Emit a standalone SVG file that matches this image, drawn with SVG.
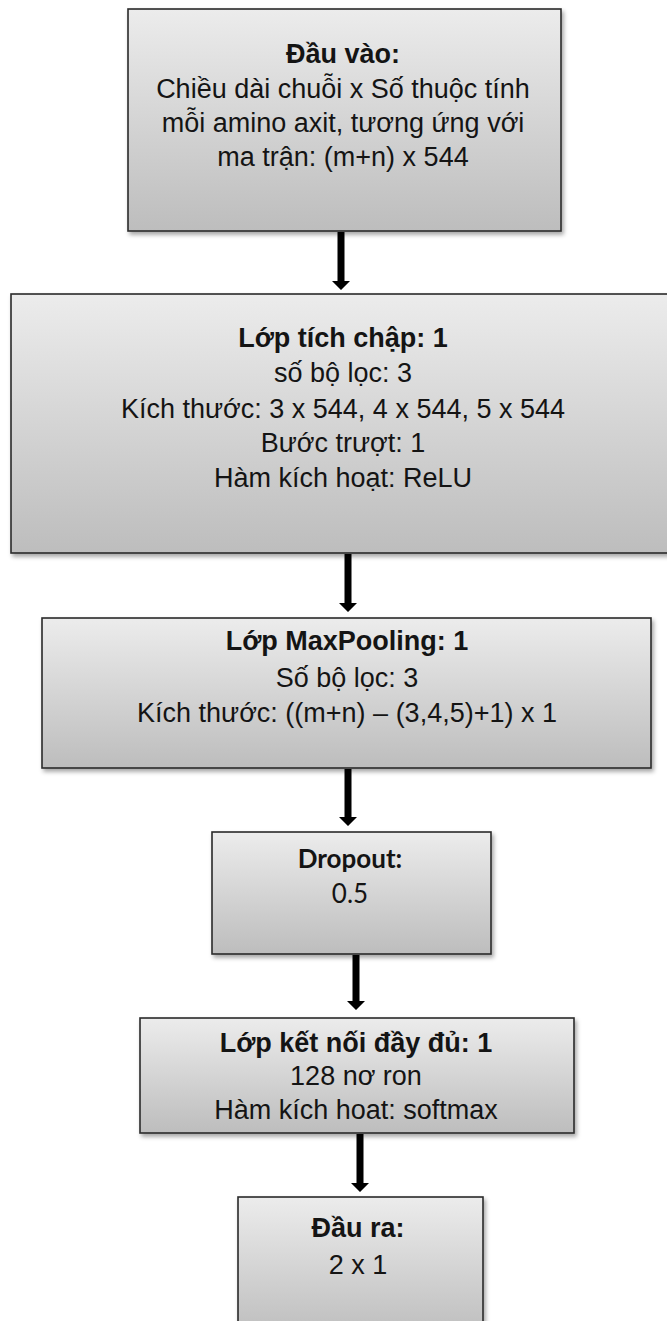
<svg xmlns="http://www.w3.org/2000/svg" width="667" height="1321" viewBox="0 0 667 1321">
<defs>
<linearGradient id="g" x1="0" y1="0" x2="0" y2="1">
<stop offset="0" stop-color="#ececec"/>
<stop offset="1" stop-color="#bdbdbd"/>
</linearGradient>
<filter id="sh" x="-5%" y="-5%" width="112%" height="115%">
<feDropShadow dx="2" dy="3" stdDeviation="2" flood-color="#000" flood-opacity="0.35"/>
</filter>
</defs>
<style>
.box{fill:url(#g);stroke:#2a2a2a;stroke-width:1.6;filter:url(#sh)}
text{font-family:"Liberation Sans",Arial,sans-serif;font-size:27px;fill:#141414;text-anchor:middle}
.b{font-weight:bold}
.c{font-family:Lato,"Open Sans",sans-serif;font-size:26px}
.arr{fill:#000}
</style>
<rect width="667" height="1321" fill="#fff"/>
<g id="n1">
<rect class="box" x="128" y="9" width="433" height="222"/>
<text class="b" x="343" y="63">Đầu vào:</text>
<text x="343" y="97.5">Chiều dài chuỗi x Số thuộc tính</text>
<text x="343" y="132">mỗi amino axit, tương ứng với</text>
<text x="343" y="166">ma trận: (m+n) x 544</text>
</g>
<g id="n2">
<rect class="box" x="11" y="294" width="665" height="259"/>
<text class="b" x="343" y="347">Lớp tích chập: 1</text>
<text x="343" y="382">số bộ lọc: 3</text>
<text x="343" y="418">Kích thước: 3 x 544, 4 x 544, 5 x 544</text>
<text x="343" y="452">Bước trượt: 1</text>
<text x="343" y="487">Hàm kích hoạt: ReLU</text>
</g>
<g id="n3">
<rect class="box" x="42" y="618" width="609" height="150"/>
<text class="b" x="347" y="650">Lớp MaxPooling: 1</text>
<text x="347" y="687">Số bộ lọc: 3</text>
<text x="347" y="722">Kích thước: ((m+n) – (3,4,5)+1) x 1</text>
</g>
<g id="n4">
<rect class="box" x="212" y="832" width="279" height="122"/>
<text class="c b" x="350" y="868">Dropout:</text>
<text class="c" x="350" y="903">0.5</text>
</g>
<g id="n5">
<rect class="box" x="140" y="1018" width="434" height="115"/>
<text class="b" x="356" y="1052">Lớp kết nối đầy đủ: 1</text>
<text x="356" y="1085">128 nơ ron</text>
<text x="356" y="1119">Hàm kích hoat: softmax</text>
</g>
<g id="n6">
<rect class="box" x="238" y="1197" width="245" height="140"/>
<text class="b" x="358" y="1237">Đầu ra:</text>
<text x="358" y="1274">2 x 1</text>
</g>
<g id="connectors">
<polygon class="arr" points="337.5,232 344.5,232 344.5,281 350,281 341,290 332,281 337.5,281"/>
<polygon class="arr" points="344.5,554 351.5,554 351.5,603 357,603 348,612 339,603 344.5,603"/>
<polygon class="arr" points="344.5,769 351.5,769 351.5,817 357,817 348,826 339,817 344.5,817"/>
<polygon class="arr" points="352.5,955 359.5,955 359.5,1001 365,1001 356,1010 347,1001 352.5,1001"/>
<polygon class="arr" points="356.5,1134 363.5,1134 363.5,1183 369,1183 360,1192 351,1183 356.5,1183"/>
</g>
</svg>
